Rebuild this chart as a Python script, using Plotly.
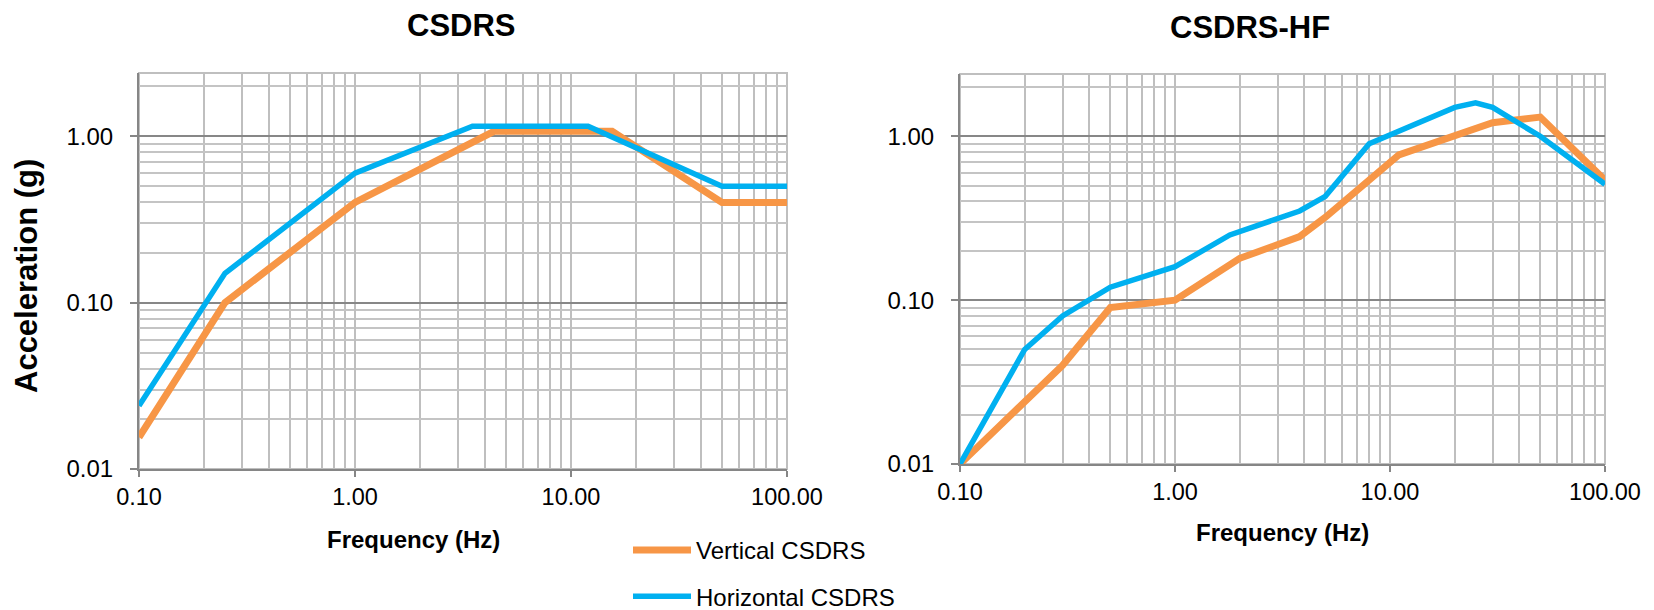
import plotly.graph_objects as go

# ---------------- data ----------------
# CSDRS (left panel)
csdrs_vert_f = [0.1, 0.25, 1.0, 4.4, 15.5, 50.0, 100.0]
csdrs_vert_a = [0.0155, 0.10, 0.40, 1.07, 1.07, 0.40, 0.40]
csdrs_horz_f = [0.1, 0.25, 1.0, 3.5, 12.0, 50.0, 100.0]
csdrs_horz_a = [0.024, 0.15, 0.60, 1.15, 1.15, 0.50, 0.50]

# CSDRS-HF (right panel)
hf_vert_f = [0.1, 0.3, 0.5, 1.0, 2.0, 3.8, 5.0, 8.0, 11.0, 30.0, 50.0, 100.0]
hf_vert_a = [0.010, 0.040, 0.090, 0.100, 0.18, 0.244, 0.32, 0.55, 0.77, 1.21, 1.31, 0.54]
hf_horz_f = [0.1, 0.2, 0.3, 0.5, 1.0, 1.8, 3.8, 5.0, 8.0, 20.0, 25.0, 30.0, 50.0, 100.0]
hf_horz_a = [0.010, 0.050, 0.080, 0.12, 0.16, 0.25, 0.35, 0.43, 0.90, 1.50, 1.60, 1.50, 1.00, 0.51]

series_names = ["Vertical CSDRS", "Horizontal CSDRS"]
panel_titles = ["CSDRS", "CSDRS-HF"]
x_title = "Frequency (Hz)"
y_title = "Acceleration (g)"

ORANGE = "#F79646"
BLUE = "#00B0F0"
FONT = "Liberation Sans, Arial, sans-serif"
W, H = 1654, 610

fig = go.Figure()

# left panel
fig.add_trace(go.Scatter(x=csdrs_vert_f, y=csdrs_vert_a, mode="lines", name=series_names[0],
                         line=dict(color=ORANGE, width=7), xaxis="x", yaxis="y",
                         legendgroup="v"))
fig.add_trace(go.Scatter(x=csdrs_horz_f, y=csdrs_horz_a, mode="lines", name=series_names[1],
                         line=dict(color=BLUE, width=5.5), xaxis="x", yaxis="y",
                         legendgroup="h"))
# right panel
fig.add_trace(go.Scatter(x=hf_vert_f, y=hf_vert_a, mode="lines", name=series_names[0],
                         line=dict(color=ORANGE, width=7), xaxis="x2", yaxis="y2",
                         legendgroup="v", showlegend=False))
fig.add_trace(go.Scatter(x=hf_horz_f, y=hf_horz_a, mode="lines", name=series_names[1],
                         line=dict(color=BLUE, width=5.5), xaxis="x2", yaxis="y2",
                         legendgroup="h", showlegend=False))

def xaxis_cfg(x0, x1, anchor):
    return dict(domain=[x0 / W, x1 / W], anchor=anchor, type="log", range=[-1, 2],
                dtick=1, tickformat=".2f", automargin=False,
                showgrid=True, gridcolor="#BFBFBF", gridwidth=1.5,
                minor=dict(dtick="D1", showgrid=True, gridcolor="#BFBFBF", gridwidth=1.5),
                showline=True, linecolor="#868686", linewidth=2,
                ticks="outside", ticklen=6, tickwidth=2, tickcolor="#868686",
                tickfont=dict(family=FONT, size=23.5, color="#000000"),
                ticklabelstandoff=0, zeroline=False)

def yaxis_cfg(top, bottom, anchor):
    return dict(domain=[1 - bottom / H, 1 - top / H], anchor=anchor, type="log",
                range=[-2, 0.38], dtick=1, tickformat=".2f", automargin=False,
                showgrid=True, gridcolor="#878787", gridwidth=2,
                minor=dict(dtick="D1", showgrid=True, gridcolor="#C4C4C4", gridwidth=1.5),
                showline=True, linecolor="#868686", linewidth=2,
                ticks="outside", ticklen=7, tickwidth=2, tickcolor="#868686",
                tickfont=dict(family=FONT, size=24, color="#000000"),
                ticklabelstandoff=12, zeroline=False)

fig.update_layout(
    width=W, height=H,
    margin=dict(l=0, r=0, t=0, b=0, autoexpand=False),
    paper_bgcolor="white", plot_bgcolor="white",
    font=dict(family=FONT, color="#000000"),
    xaxis=xaxis_cfg(139, 787, "y"),
    yaxis=yaxis_cfg(73, 469, "x"),
    xaxis2=xaxis_cfg(960, 1605, "y2"),
    yaxis2=yaxis_cfg(74, 464, "x2"),
    showlegend=True,
    legend=dict(x=628 / W, y=1 - 528 / H, xanchor="left", yanchor="top",
                orientation="v", font=dict(family=FONT, size=24, color="#000000"),
                bgcolor="rgba(0,0,0,0)", tracegroupgap=12, itemwidth=58,
                traceorder="grouped"),
)

# plot-area borders (light grey) behind axis lines
for xr, yr in [("x domain", "y domain"), ("x2 domain", "y2 domain")]:
    fig.add_shape(type="rect", xref=xr, yref=yr, x0=0, x1=1, y0=0, y1=1,
                  line=dict(color="#BFBFBF", width=2), layer="below")

def label(text, x, y, size, angle=0):
    fig.add_annotation(text="<b>%s</b>" % text, x=x / W, y=1 - y / H,
                       xref="paper", yref="paper", showarrow=False,
                       xanchor="center", yanchor="middle", textangle=angle,
                       font=dict(family=FONT, size=size, color="#000000"))

# titles
label(panel_titles[0], 461, 25, 31)
label(panel_titles[1], 1250, 27, 31)
# axis titles
label(x_title, 413, 539, 24)
label(x_title, 1282, 532, 24)
label(y_title, 27, 276, 31, angle=-90)

fig.write_html("out.html", config={"displayModeBar": False},
               post_script="document.body.style.margin='0px';")
